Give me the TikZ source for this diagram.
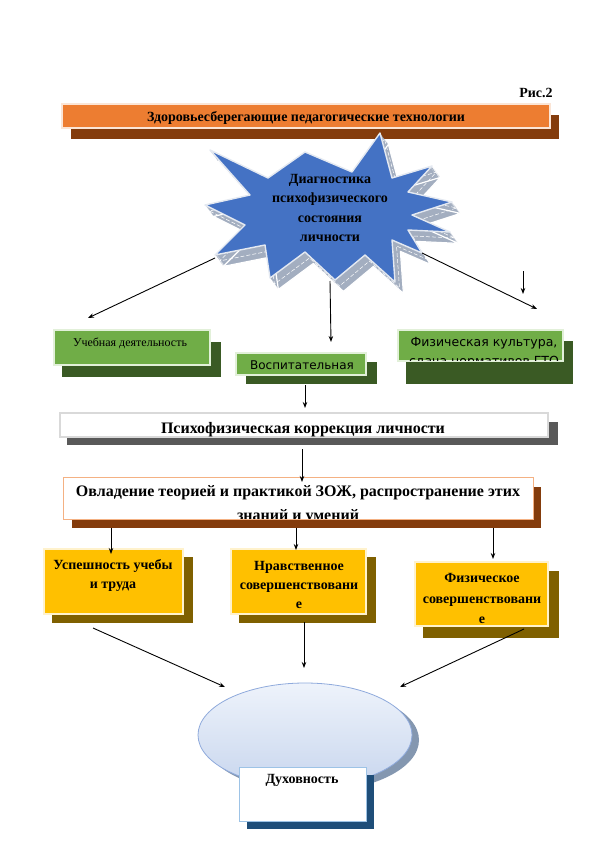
\documentclass[tikz,border=0pt]{standalone}
\usepackage{fontspec}
\setmainfont{Liberation Serif}
\newfontfamily\sansf{DejaVu Sans}
\usetikzlibrary{arrows.meta,calc}

\definecolor{orangeF}{HTML}{ED7D31}
\definecolor{orangeB}{HTML}{FBE5D6}
\definecolor{brownS}{HTML}{843C0C}
\definecolor{greenF}{HTML}{70AD47}
\definecolor{greenB}{HTML}{E2F0D9}
\definecolor{greenS}{HTML}{3A5A24}
\definecolor{grayS}{HTML}{595959}
\definecolor{grayB}{HTML}{D9D9D9}
\definecolor{peachB}{HTML}{F4B183}
\definecolor{yellowF}{HTML}{FFC000}
\definecolor{yellowB}{HTML}{FFF2CC}
\definecolor{yellowS}{HTML}{7F6000}
\definecolor{blueF}{HTML}{4472C4}
\definecolor{starX}{HTML}{A3AEC0}
\definecolor{starB}{HTML}{E4E9F1}
\definecolor{ellT}{HTML}{EEF3FB}
\definecolor{ellF}{HTML}{C8D6EE}
\definecolor{ellB}{HTML}{8FAADC}
\definecolor{ellS}{HTML}{8497B0}
\definecolor{navyS}{HTML}{1F4E79}
\definecolor{lightB}{HTML}{9DC3E6}

\tikzset{
  frontbox/.style={rectangle, line width=1.6pt, inner sep=0pt, outer sep=0pt},
  lbl/.style={inner sep=0pt, align=center},
  arr/.style={-{Stealth[length=6pt,width=4.5pt]}, line width=0.9pt, black},
}

\def\starpath{(210,150) -- (268,178) -- (305,152) -- (352,172) -- (380,133) -- (392,178) -- (432,166) -- (408,192) -- (452,202) -- (412,215) -- (450,232) -- (408,230) -- (422,253) -- (392,240) -- (395,282) -- (365,255) -- (335,280) -- (305,252) -- (270,278) -- (265,245) -- (215,255) -- (245,225) -- (205,205) -- (250,195) -- cycle}

\begin{document}
\begin{tikzpicture}[x=1pt,y=-1pt]
\useasboundingbox (0,0) rectangle (595,842);
\fill[white] (0,0) rectangle (595,842);

% caption
\node[lbl, font=\fontsize{14}{16}\selectfont\bfseries] (ris) at (536,93) {Рис.2};

% top bar
\fill[brownS] (71,115) rectangle (559,139);
\node[frontbox, draw=orangeB, fill=orangeF, minimum width=488pt, minimum height=24pt] (top) at (306,116) {};
\node[lbl, font=\fontsize{14}{16}\selectfont\bfseries] (toptext) at (306,118) {Здоровьесберегающие педагогические технологии};

% star
\foreach \i in {1,...,12} {\fill[starX] [shift={(\i*0.7,\i*0.95)}] \starpath;}
\draw[white, line width=1.2pt, line join=round] [shift={(8.4,11.4)}] \starpath;
\draw[white, line width=0.5pt, dash pattern=on 4pt off 2pt] [shift={(4.5,6)}] \starpath;
\filldraw[fill=blueF, draw=starB, line width=1.4pt, line join=round] \starpath;
\node[lbl, font=\fontsize{14}{19.5}\selectfont\bfseries] (star) at (330,208) {Диагностика\\психофизического\\состояния\\личности};
\coordinate (sL) at (215,258);
\coordinate (sB) at (330,281);
\coordinate (sR) at (422,253);
\coordinate (eL) at (88,318);
\coordinate (eB) at (331,342);
\coordinate (eR) at (537,309);
\coordinate (kA) at (523,271);
\coordinate (kB) at (523,294);

% green boxes
\fill[greenS] (62,342) rectangle (221,377);
\node[frontbox, draw=greenB, fill=greenF, minimum width=156pt, minimum height=35pt] (ucheb) at (132,347.5) {};
\node[lbl, font=\fontsize{12}{14}\selectfont] (uchebt) at (130,343) {Учебная деятельность};

\fill[greenS] (246,362) rectangle (377,384);
\node[frontbox, draw=greenB, fill=greenF, minimum width=130pt, minimum height=22pt] (vosp) at (301,364) {};
\node[lbl, font=\sansf\fontsize{12}{14}\selectfont] (vospt) at (302,365) {Воспитательная};

\fill[greenS] (406,341) rectangle (573,384);
\node[frontbox, draw=greenB, fill=greenF, minimum width=165pt, minimum height=31pt] (fiz) at (480.5,345.5) {};
\begin{scope}
\clip (398,330) rectangle (563,360);
\node[lbl, font=\sansf\fontsize{12.5}{19}\selectfont] (fizt) at (484,352.5) {Физическая культура,\\сдача нормативов ГТО};
\end{scope}

% correction
\fill[grayS] (67,422) rectangle (558,445);
\node[frontbox, draw=grayB, fill=white, minimum width=488pt, minimum height=24pt] (korr) at (304,425) {};
\begin{scope}
\clip (61,414) rectangle (547,436.5);
\node[lbl, font=\fontsize{16}{18}\selectfont\bfseries] (korrt) at (303,430) {Психофизическая коррекция личности};
\end{scope}

% ZOZH
\fill[brownS] (72,487) rectangle (541,528);
\node[frontbox, draw=peachB, fill=white, line width=1pt, minimum width=470pt, minimum height=42pt] (zozh) at (298,498) {};
\begin{scope}
\clip (64,478) rectangle (532,518.5);
\node[lbl, font=\fontsize{16}{24}\selectfont\bfseries] (zozht) at (298,505) {Овладение теорией и практикой ЗОЖ, распространение этих\\знаний и умений};
\end{scope}

% yellow boxes
\fill[yellowS] (52,557) rectangle (193,623);
\node[frontbox, draw=yellowB, fill=yellowF, minimum width=139pt, minimum height=65pt] (usp) at (113.5,581.5) {};
\node[lbl, font=\fontsize{14}{19.5}\selectfont\bfseries] (uspt) at (113,575.5) {Успешность учебы\\и труда};

\fill[yellowS] (239,557) rectangle (376,623);
\node[frontbox, draw=yellowB, fill=yellowF, minimum width=135pt, minimum height=65pt] (nrav) at (298.5,581.5) {};
\node[lbl, font=\fontsize{14}{19}\selectfont\bfseries] (nravt) at (299,585) {Нравственное\\совершенствовани\\е};

\fill[yellowS] (423,571) rectangle (559,638);
\node[frontbox, draw=yellowB, fill=yellowF, minimum width=133pt, minimum height=64pt] (fsov) at (481.5,594) {};
\node[lbl, font=\fontsize{14}{20.5}\selectfont\bfseries] (fsovt) at (482,598.5) {Физическое\\совершенствовани\\е};

% ellipse
\fill[ellS] (312,740) ellipse [x radius=107pt, y radius=52pt];
\shade[top color=ellT, bottom color=ellF, draw=ellB, line width=0.8pt] (305,735) ellipse [x radius=107pt, y radius=52pt];
\coordinate (ellL) at (225,687);
\coordinate (ellM) at (304,668);
\coordinate (ellR) at (400,687);

% spirituality box
\fill[navyS] (247,775) rectangle (374,829);
\node[frontbox, draw=lightB, fill=white, line width=1pt, minimum width=127pt, minimum height=54pt] (duh) at (302.5,794) {};
\node[lbl, font=\fontsize{14}{16}\selectfont\bfseries] (duht) at (302,780) {Духовность};

% connector end points
\coordinate (vA) at (305,385);
\coordinate (vB) at (305,408);
\coordinate (kkA) at (302,449);
\coordinate (kkB) at (302,482);
\coordinate (z1) at (111,528);
\coordinate (y1) at (111,554);
\coordinate (z2) at (296,528);
\coordinate (y2) at (296,550);
\coordinate (z3) at (493,528);
\coordinate (y3) at (493,559);
\coordinate (b1) at (93,628);
\coordinate (b2) at (304,622);
\coordinate (b3) at (524,629);

% connectors
\draw[arr] (sL) -- (eL);
\draw[arr] (sB) -- (eB);
\draw[arr] (sR) -- (eR);
\draw[arr] (kA) -- (kB);
\draw[arr] (vA) -- (vB);
\draw[arr] (kkA) -- (kkB);
\draw[arr] (z1) -- (y1);
\draw[arr] (z2) -- (y2);
\draw[arr] (z3) -- (y3);
\draw[arr] (b1) -- (ellL);
\draw[arr] (b2) -- (ellM);
\draw[arr] (b3) -- (ellR);
\end{tikzpicture}
\end{document}
